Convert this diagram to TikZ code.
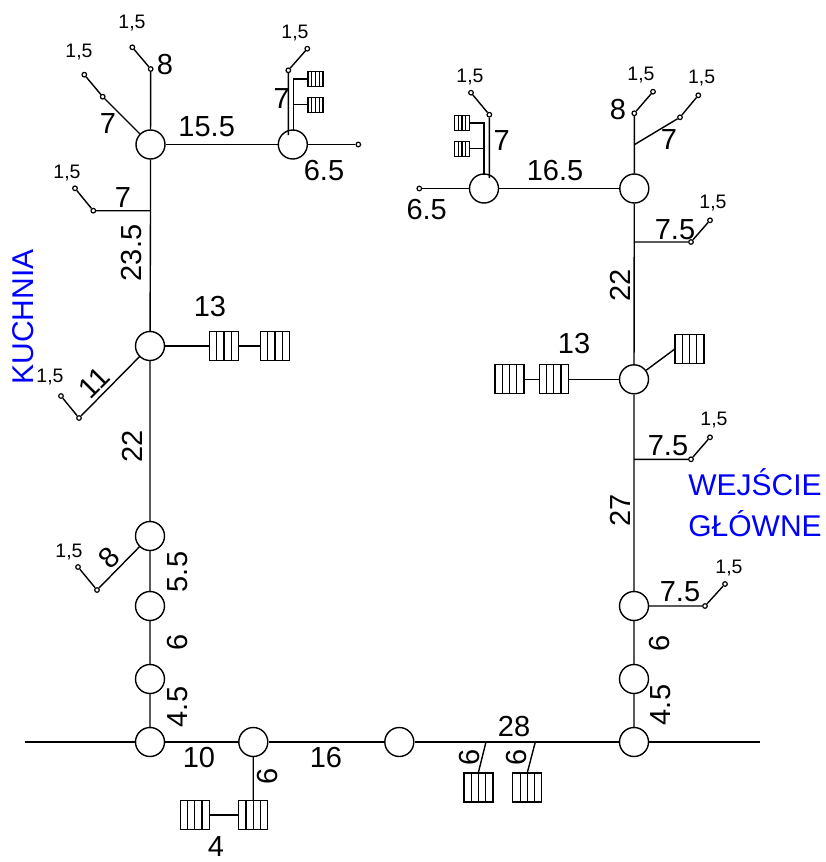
\documentclass[tikz,border=0pt]{standalone}
\usepackage{fontspec}
\setmainfont{Liberation Sans}
\usetikzlibrary{calc}
\tikzset{
  wire/.style={line width=1.4pt},
  joint/.style={circle,draw,fill=white,line width=1.4pt,minimum size=29pt,inner sep=0pt},
  tip/.style={circle,draw,fill=white,line width=1.2pt,minimum size=4.6pt,inner sep=0pt},
  rad/.style={rectangle,draw,fill=white,line width=1.2pt,inner sep=0pt,minimum width=#1,minimum height=#1,
    path picture={
      \draw[line width=1.1pt] ($(path picture bounding box.south west)!0.25!(path picture bounding box.south east)$) -- ($(path picture bounding box.north west)!0.25!(path picture bounding box.north east)$);
      \draw[line width=1.1pt] ($(path picture bounding box.south west)!0.5!(path picture bounding box.south east)$) -- ($(path picture bounding box.north west)!0.5!(path picture bounding box.north east)$);
      \draw[line width=1.1pt] ($(path picture bounding box.south west)!0.75!(path picture bounding box.south east)$) -- ($(path picture bounding box.north west)!0.75!(path picture bounding box.north east)$);
    }},
  rad/.default=29pt,
  lab/.style={inner sep=0pt,font=\fontsize{29}{29}\selectfont},
  sm/.style={inner sep=0pt,font=\fontsize{19.5}{19.5}\selectfont},
  blue lab/.style={inner sep=0pt,text=blue,font=\fontsize{30}{30}\selectfont},
}
\begin{document}
\begin{tikzpicture}[x=1pt,y=-1pt]
\useasboundingbox (0,0) rectangle (826,862);
% free points
\coordinate (w0) at (25,742);
\coordinate (w1) at (760,742);
\coordinate (k1) at (150.5,210.7);
\coordinate (k2) at (634.3,144.7);
\coordinate (k3) at (634.3,242);
\coordinate (k4) at (634,459.3);
\coordinate (k5) at (293.3,79);
\coordinate (k6) at (293.3,104.7);
\coordinate (k7) at (484,122.9);
\coordinate (k8) at (484,148.7);
\coordinate (m1) at (486,742);
\coordinate (m2) at (535.3,742);
\coordinate (m3) at (288.3,135);
\coordinate (m4) at (293.3,131);
\coordinate (m5) at (489.3,178);
\coordinate (m6) at (484,175);
\coordinate (m7) at (478.3,772.7);
\coordinate (m8) at (527.3,772.7);
% joints
\node[joint] (a1) at (150.5,144.5) {};
\node[joint] (a2) at (292.8,144.5) {};
\node[joint] (a3) at (150,346) {};
\node[joint] (a4) at (150,536) {};
\node[joint] (a5) at (150,606) {};
\node[joint] (a6) at (150,679) {};
\node[joint] (a7) at (150,742) {};
\node[joint] (b1) at (253.3,742) {};
\node[joint] (b2) at (399.3,742) {};
\node[joint] (b3) at (634,742) {};
\node[joint] (c1) at (634,679) {};
\node[joint] (c2) at (634,606) {};
\node[joint] (c3) at (634,379.3) {};
\node[joint] (c4) at (634.3,188.5) {};
\node[joint] (c5) at (484,188.5) {};
% tips
\node[tip] (t1) at (150.7,69) {};
\node[tip] (t2) at (132.3,47.3) {};
\node[tip] (t3) at (102.7,96.7) {};
\node[tip] (t4) at (84.3,74.7) {};
\node[tip] (t5) at (93.3,210.7) {};
\node[tip] (t6) at (75,188.3) {};
\node[tip] (t7) at (288.3,70.3) {};
\node[tip] (t8) at (307.3,48.7) {};
\node[tip] (t9) at (358.3,144.5) {};
\node[tip] (t10) at (419.3,188.5) {};
\node[tip] (t11) at (489.3,114.7) {};
\node[tip] (t12) at (471,92.7) {};
\node[tip] (t13) at (634.3,113.3) {};
\node[tip] (t14) at (653,91.7) {};
\node[tip] (t15) at (680,117.3) {};
\node[tip] (t16) at (698.3,95.3) {};
\node[tip] (t17) at (691,242) {};
\node[tip] (t18) at (710,220.3) {};
\node[tip] (t19) at (691,459.3) {};
\node[tip] (t20) at (710,437.3) {};
\node[tip] (t21) at (705,606) {};
\node[tip] (t22) at (725,584) {};
\node[tip] (t23) at (79,418) {};
\node[tip] (t24) at (61,396) {};
\node[tip] (t25) at (97,590) {};
\node[tip] (t26) at (78,567) {};
% radiators
\node[rad] (r1) at (224,346) {};
\node[rad] (r2) at (275,346) {};
\node[rad] (r3) at (689.5,349.3) {};
\node[rad] (r4) at (509.5,379.3) {};
\node[rad] (r5) at (553.7,379.3) {};
\node[rad] (r6) at (253.2,815) {};
\node[rad] (r7) at (194.7,815) {};
\node[rad] (r8) at (478.5,787.5) {};
\node[rad] (r9) at (527.3,787.5) {};
\node[rad=15pt] (s1) at (315.5,79) {};
\node[rad=15pt] (s2) at (315.5,104.7) {};
\node[rad=15pt] (s3) at (462,122.9) {};
\node[rad=15pt] (s4) at (462,148.7) {};
% connectors
\draw[wire] (w0) -- (a7) -- (b1) -- (b2) -- (b3) -- (w1);
\draw[wire] (a7) -- (a6) -- (a5) -- (a4) -- (a3) -- (k1) -- (a1) -- (t1) -- (t2);
\draw[wire] (a1) -- (t3) -- (t4);
\draw[wire] (k1) -- (t5) -- (t6);
\draw[wire] (a1) -- (a2) -- (t9);
\draw[wire] (m3) -- (t7) -- (t8);
\draw[wire] (m4) -- (k5) -- (s1.west);
\draw[wire] (k6) -- (s2.west);
\draw[wire] (a3) -- (r1.west);
\draw[wire] (r1.east) -- (r2.west);
\draw[wire] (a3) -- (t23) -- (t24);
\draw[wire] (a4) -- (t25) -- (t26);
\draw[wire] (b3) -- (c1) -- (c2) -- (c3) -- (c4) -- (t13) -- (t14);
\draw[wire] (k2) -- (t15) -- (t16);
\draw[wire] (c4) -- (c5) -- (t10);
\draw[wire] (m5) -- (t11) -- (t12);
\draw[wire] (m6) -- (k7) -- (s3.east);
\draw[wire] (k8) -- (s4.east);
\draw[wire] (k3) -- (t17) -- (t18);
\draw[wire] (k4) -- (t19) -- (t20);
\draw[wire] (c2) -- (t21) -- (t22);
\draw[wire] (c3) -- (r3.west);
\draw[wire] (c3) -- (r5.east);
\draw[wire] (r5.west) -- (r4.east);
\draw[wire] (b1) -- (r6.north);
\draw[wire] (r6.west) -- (r7.east);
\draw[wire] (m1) -- (m7);
\draw[wire] (m2) -- (m8);
% labels
\node[lab] (l1) at (165,65) {8};
\node[lab] (l2) at (108,124) {7};
\node[lab] (l3) at (206.7,126.7) {15.5};
\node[lab] (l4) at (281.7,99) {7};
\node[lab] (l5) at (324,170.7) {6.5};
\node[lab] (l6) at (123,198) {7};
\node[lab,rotate=90] (l7) at (132,253) {23.5};
\node[lab] (l8) at (210,307) {13};
\node[lab,rotate=45] (l9) at (94,383) {11};
\node[lab,rotate=90] (l10) at (132,446) {22};
\node[lab,rotate=45] (l11) at (109,558) {8};
\node[lab,rotate=90] (l12) at (178,572) {5.5};
\node[lab,rotate=90] (l13) at (178,642) {6};
\node[lab,rotate=90] (l14) at (178,707) {4.5};
\node[lab] (l15) at (199,758) {10};
\node[lab,rotate=90] (l16) at (268,776) {6};
\node[lab] (l17) at (216,846.5) {4};
\node[lab] (l18) at (326,758) {16};
\node[lab,rotate=90] (l19) at (470,757) {6};
\node[lab,rotate=90] (l20) at (517,757) {6};
\node[lab] (l21) at (514,727) {28};
\node[lab,rotate=90] (l22) at (661,705) {4.5};
\node[lab,rotate=90] (l23) at (660,643) {6};
\node[lab] (l24) at (680,592) {7.5};
\node[lab,rotate=90] (l25) at (620,510) {27};
\node[lab] (l26) at (668,446) {7.5};
\node[lab] (l27) at (574,344) {13};
\node[lab,rotate=90] (l28) at (620,285) {22};
\node[lab] (l29) at (675,230) {7.5};
\node[lab] (l30) at (669,140) {7};
\node[lab] (l31) at (618,110) {8};
\node[lab] (l32) at (501.7,141) {7};
\node[lab] (l33) at (555,170.7) {16.5};
\node[lab] (l34) at (426.7,210) {6.5};
\node[sm] (n1) at (132,22.7) {1,5};
\node[sm] (n2) at (79,51.7) {1,5};
\node[sm] (n3) at (67,172.7) {1,5};
\node[sm] (n4) at (295,32.7) {1,5};
\node[sm] (n5) at (470,77) {1,5};
\node[sm] (n6) at (641,75) {1,5};
\node[sm] (n7) at (701.7,78) {1,5};
\node[sm] (n8) at (713,203) {1,5};
\node[sm] (n9) at (714,420) {1,5};
\node[sm] (n10) at (729,568) {1,5};
\node[sm] (n11) at (50,377) {1,5};
\node[sm] (n12) at (69,552) {1,5};
\node[blue lab,rotate=90] (u1) at (23,317) {KUCHNIA};
\node[blue lab] (u2) at (755,482) {WEJŚCIE};
\node[blue lab] (u3) at (755,524) {GŁÓWNE};
\end{tikzpicture}
\end{document}
